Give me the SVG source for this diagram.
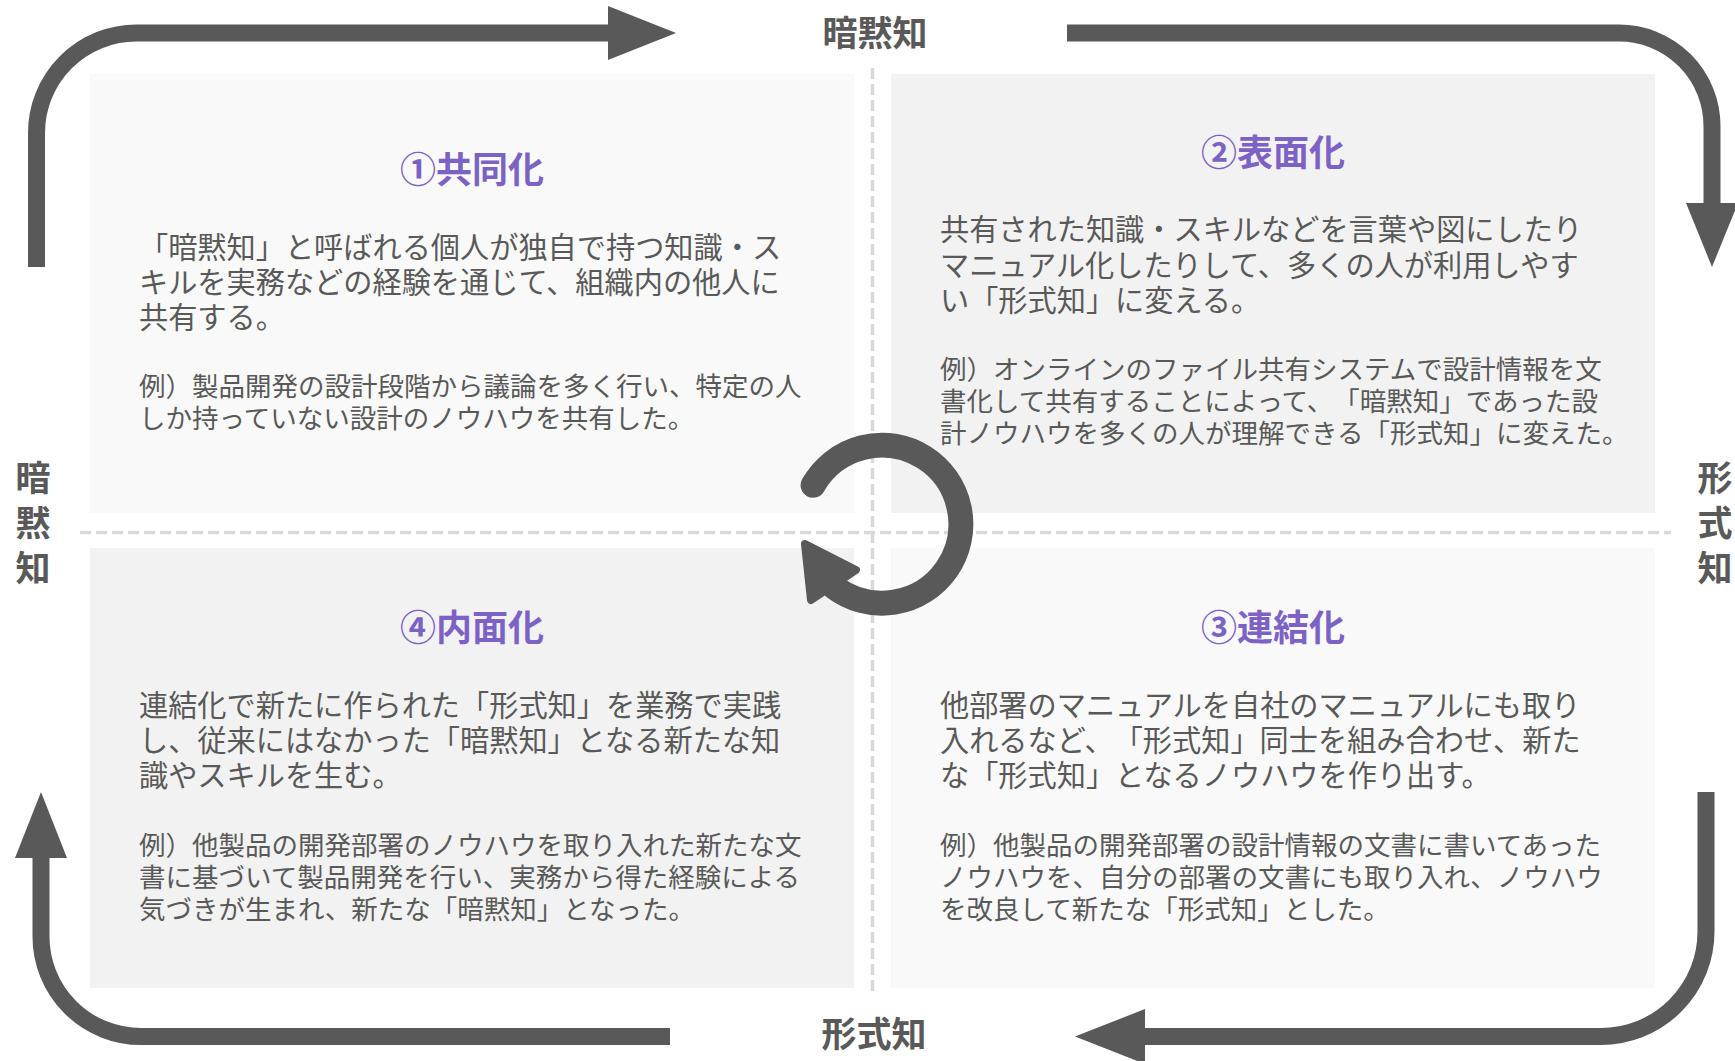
<svg xmlns="http://www.w3.org/2000/svg" width="1735" height="1061" viewBox="0 0 1735 1061">
<style>
text{text-spacing-trim:space-all}
.panelA{fill:#f9f9f9}
.panelB{fill:#f2f2f2}
.title{font-family:"Noto Sans CJK JP","Noto Sans",sans-serif;font-weight:700;font-size:36px;fill:#7c62c4;text-anchor:middle}
.body{font-family:"Noto Sans CJK JP","Noto Sans",sans-serif;font-size:29.2px;fill:#595959}
.ex{font-family:"Noto Sans CJK JP","Noto Sans",sans-serif;font-size:26.5px;fill:#595959}
.lbl{font-family:"Noto Sans CJK JP","Noto Sans",sans-serif;font-weight:700;font-size:35px;fill:#595959;text-anchor:middle}
.flow{fill:none;stroke:#595959;stroke-width:17}
.head{fill:#595959}
.dash{stroke:#d9d9d9;stroke-width:3.5;stroke-dasharray:11 5}
</style>
<rect width="1735" height="1061" fill="#ffffff"/>
<g id="panel1">
<rect class="panelA" x="90" y="74" width="764" height="439"/>
<text class="title" x="472" y="183">①共同化</text>
<text class="body"><tspan x="139" y="257.5">「暗黙知」と呼ばれる個人が独自で持つ知識・ス</tspan><tspan x="139" y="292.5">キルを実務などの経験を通じて、組織内の他人に</tspan><tspan x="139" y="328">共有する。</tspan></text>
<text class="ex"><tspan x="139" y="396">例）製品開発の設計段階から議論を多く行い、特定の人</tspan><tspan x="139" y="428">しか持っていない設計のノウハウを共有した。</tspan></text>
</g>
<g id="panel2">
<rect class="panelB" x="891" y="74" width="764" height="439"/>
<text class="title" x="1273" y="166">②表面化</text>
<text class="body"><tspan x="940" y="240">共有された知識・スキルなどを言葉や図にしたり</tspan><tspan x="940" y="275.5">マニュアル化したりして、多くの人が利用しやす</tspan><tspan x="940" y="311">い「形式知」に変える。</tspan></text>
<text class="ex"><tspan x="940" y="379">例）オンラインのファイル共有システムで設計情報を文</tspan><tspan x="940" y="411">書化して共有することによって、「暗黙知」であった設</tspan><tspan x="940" y="443">計ノウハウを多くの人が理解できる「形式知」に変えた。</tspan></text>
</g>
<g id="panel4">
<rect class="panelB" x="90" y="548" width="764" height="440"/>
<text class="title" x="472" y="641">④内面化</text>
<text class="body"><tspan x="139" y="716">連結化で新たに作られた「形式知」を業務で実践</tspan><tspan x="139" y="751">し、従来にはなかった「暗黙知」となる新たな知</tspan><tspan x="139" y="786">識やスキルを生む。</tspan></text>
<text class="ex"><tspan x="139" y="855">例）他製品の開発部署のノウハウを取り入れた新たな文</tspan><tspan x="139" y="887">書に基づいて製品開発を行い、実務から得た経験による</tspan><tspan x="139" y="919">気づきが生まれ、新たな「暗黙知」となった。</tspan></text>
</g>
<g id="panel3">
<rect class="panelA" x="891" y="548" width="764" height="440"/>
<text class="title" x="1273" y="641">③連結化</text>
<text class="body"><tspan x="940" y="716">他部署のマニュアルを自社のマニュアルにも取り</tspan><tspan x="940" y="751">入れるなど、「形式知」同士を組み合わせ、新た</tspan><tspan x="940" y="786">な「形式知」となるノウハウを作り出す。</tspan></text>
<text class="ex"><tspan x="940" y="855">例）他製品の開発部署の設計情報の文書に書いてあった</tspan><tspan x="940" y="887">ノウハウを、自分の部署の文書にも取り入れ、ノウハウ</tspan><tspan x="940" y="919">を改良して新たな「形式知」とした。</tspan></text>
</g>
<g id="axes">
<line class="dash" x1="80" y1="532.5" x2="1671" y2="532.5"/>
<line class="dash" x1="872.5" y1="68" x2="872.5" y2="995"/>
</g>
<g id="labels">
<text class="lbl" x="875" y="46">暗黙知</text>
<text class="lbl" x="874" y="1047">形式知</text>
<text class="lbl"><tspan x="33" y="491">暗</tspan><tspan x="33" y="536">黙</tspan><tspan x="33" y="581">知</tspan></text>
<text class="lbl"><tspan x="1715" y="491">形</tspan><tspan x="1715" y="536">式</tspan><tspan x="1715" y="581">知</tspan></text>
</g>
<g id="connectors">
<path class="flow" d="M36.5,267 V133 A100,100 0 0 1 136.5,33 H612"/>
<polygon class="head" points="608,6 676,33 608,60"/>
<path class="flow" d="M1067,33 H1619 A93,93 0 0 1 1712,126 V207"/>
<polygon class="head" points="1686,203 1738,203 1712,267"/>
<path class="flow" d="M1706,792 V931.5 A105,105 0 0 1 1601,1036.5 H1141"/>
<polygon class="head" points="1145,1009 1075,1036.5 1145,1064"/>
<path class="flow" d="M670,1036.5 H141 A100,100 0 0 1 41,936.5 V854"/>
<polygon class="head" points="15,858 41,792 67,858"/>
</g>
<g id="cycle">
<path d="M813.1,485.25 A79,79 0 1 1 834,587" fill="none" stroke="#595959" stroke-width="25" stroke-linecap="round"/>
<polygon points="805,544 856,570 811,600" fill="#595959" stroke="#595959" stroke-width="8" stroke-linejoin="round"/>
</g>
</svg>
